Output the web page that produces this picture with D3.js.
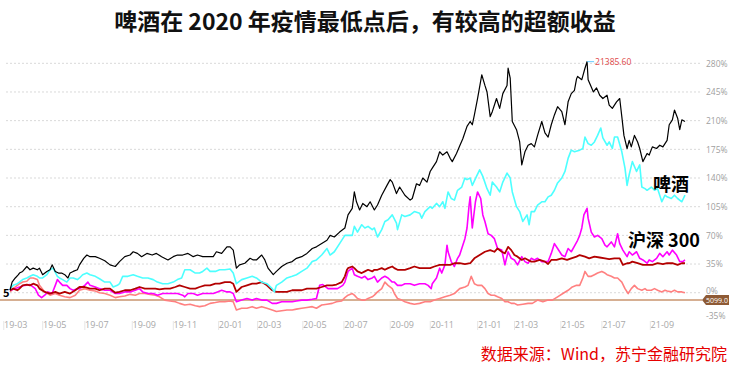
<!DOCTYPE html>
<html><head><meta charset="utf-8">
<script src="https://cdn.jsdelivr.net/npm/d3@7/dist/d3.min.js"></script>
<style>
body{margin:0;background:#fff;}
svg{display:block;font-family:"Noto Sans CJK SC","Noto Sans",sans-serif;}
</style></head>
<body><svg id="c" width="729" height="366"></svg>
<script>
// ---- data (x = trading-day index since start, y = cumulative return %) ----
const xTickLabels = ['19-03','19-05','19-07','19-09','19-11','20-01','20-03','20-05','20-07','20-09','20-11','21-01','21-03','21-05','21-07','21-09'];
const xTickDays = [5,42,82,127,166,209,246,289,328,372,410,455,490,534,573,619];
const yTicks = [-35,0,35,70,105,140,175,210,245,280];
const refLevel = -8.9;      // 5099.0 reference line
const refLabel = '5099.0';
const peakLabel = '21385.60';
const peakDay = 548;
const beer = [[0,3],[2,13],[5,18],[8,22],[9,24],[12,26],[16,32],[19,28],[22,30],[26,28],[28,30],[31,22],[35,26],[38,28],[40,34],[43,26],[46,24],[49,24],[52,22],[55,18],[57,24],[60,26],[64,28],[66,34],[70,42],[73,46],[76,44],[81,44],[85,42],[90,39],[95,34],[100,32],[104,38],[109,44],[114,46],[117,50],[121,48],[125,44],[130,48],[135,46],[139,48],[144,44],[150,40],[155,44],[159,46],[164,46],[169,48],[174,44],[178,46],[183,44],[188,44],[193,44],[196,50],[201,48],[206,56],[209,56],[212,52],[215,30],[218,34],[223,36],[228,42],[231,40],[234,40],[239,46],[242,40],[245,30],[250,22],[253,26],[258,32],[263,36],[268,38],[272,42],[277,44],[282,48],[287,54],[291,56],[296,60],[301,64],[304,70],[308,68],[313,74],[318,79],[321,95],[325,103],[327,123],[329,111],[332,101],[335,109],[339,105],[342,111],[346,101],[349,107],[353,119],[358,131],[361,138],[363,135],[367,121],[370,129],[375,119],[380,113],[382,115],[386,133],[389,131],[392,140],[396,135],[399,148],[401,152],[405,160],[408,172],[411,168],[415,172],[418,164],[420,160],[424,170],[427,179],[430,188],[434,203],[437,209],[439,205],[441,217],[444,237],[448,266],[451,253],[453,245],[456,215],[458,221],[462,237],[465,225],[468,243],[472,253],[473,274],[475,262],[477,209],[481,199],[484,184],[486,156],[489,172],[492,180],[495,182],[498,178],[501,192],[505,209],[508,195],[511,190],[514,205],[517,217],[520,227],[524,221],[527,205],[530,233],[533,243],[536,247],[538,261],[539,264],[543,260],[546,274],[548,282],[549,260],[552,251],[554,245],[557,250],[560,241],[563,237],[567,241],[569,229],[572,225],[576,233],[579,237],[581,215],[583,192],[586,176],[588,186],[590,178],[593,192],[596,184],[598,176],[601,160],[605,170],[607,168],[610,178],[614,176],[617,180],[620,178],[624,186],[626,205],[629,211],[631,223],[634,213],[636,199],[638,211],[641,209]];
const beerIndustry = [[0,5],[3,9],[7,11],[9,13],[12,16],[16,18],[19,20],[22,22],[26,20],[28,18],[31,18],[35,22],[38,28],[41,30],[45,20],[47,18],[50,16],[54,13],[57,18],[60,18],[64,16],[66,18],[69,22],[73,24],[76,22],[81,20],[85,17],[90,13],[95,13],[98,7],[102,9],[104,11],[107,20],[112,20],[117,22],[121,20],[126,18],[131,18],[136,16],[140,13],[145,11],[150,11],[155,13],[159,16],[163,18],[166,28],[171,28],[176,24],[180,24],[183,26],[187,30],[190,26],[195,26],[199,28],[204,28],[209,29],[212,24],[215,11],[220,16],[225,18],[230,20],[234,18],[239,13],[244,11],[249,5],[251,1],[253,9],[258,13],[263,18],[268,20],[272,22],[277,26],[282,30],[287,38],[291,40],[296,46],[301,54],[304,46],[308,50],[313,60],[318,70],[321,70],[325,70],[327,81],[330,74],[334,83],[337,79],[340,81],[344,77],[346,79],[349,68],[353,77],[356,87],[359,89],[363,95],[367,85],[368,77],[372,95],[375,93],[380,95],[384,99],[389,97],[391,91],[394,99],[399,105],[401,103],[405,109],[408,105],[411,111],[413,103],[416,123],[419,115],[422,113],[425,125],[429,129],[432,140],[434,138],[437,140],[439,131],[443,142],[446,150],[449,142],[453,127],[456,119],[458,135],[462,129],[465,123],[468,135],[472,146],[475,140],[477,123],[481,105],[484,99],[487,87],[491,95],[493,83],[495,99],[498,99],[501,107],[505,111],[508,111],[511,117],[514,119],[517,125],[520,134],[524,140],[527,148],[530,164],[533,174],[536,172],[541,174],[544,176],[546,190],[549,182],[552,180],[555,184],[558,192],[561,201],[563,189],[567,180],[569,184],[572,176],[574,190],[577,190],[581,172],[584,152],[586,131],[588,144],[591,160],[595,148],[598,156],[600,129],[603,127],[605,125],[609,129],[612,125],[615,127],[619,111],[622,119],[624,117],[628,115],[631,119],[634,115],[638,111],[641,119]];
const magentaSeries = [[0,3],[5,5],[9,7],[14,9],[19,10],[24,5],[27,-3],[30,-6],[33,-3],[36,1],[40,-1],[43,9],[45,16],[47,13],[50,9],[54,9],[57,5],[60,3],[64,5],[66,5],[71,9],[74,13],[76,9],[81,7],[85,5],[90,3],[95,3],[100,-1],[104,-1],[109,1],[114,1],[119,3],[123,5],[126,1],[131,-1],[136,-1],[140,-3],[145,-1],[150,-1],[155,-1],[159,-1],[164,-3],[166,-5],[169,-1],[174,-1],[178,-3],[183,-1],[188,-1],[193,-1],[197,1],[201,3],[206,1],[209,1],[212,-1],[215,-11],[220,-9],[225,-7],[230,-9],[234,-7],[239,-9],[244,-9],[249,-13],[253,-13],[258,-11],[263,-11],[268,-11],[272,-10],[277,-9],[282,-9],[287,-8],[291,-7],[294,9],[297,10],[302,5],[307,5],[311,5],[316,9],[318,13],[321,26],[325,30],[327,22],[330,20],[334,18],[337,20],[340,16],[344,18],[346,20],[349,13],[353,18],[356,20],[359,18],[363,13],[365,13],[368,9],[372,9],[375,11],[380,11],[384,9],[389,11],[394,11],[397,9],[400,5],[401,11],[405,18],[408,30],[410,24],[413,34],[415,58],[416,50],[419,38],[422,32],[425,42],[427,46],[430,58],[432,66],[434,79],[436,107],[437,117],[439,79],[442,111],[444,123],[447,115],[449,95],[451,87],[454,72],[457,70],[460,66],[463,54],[467,52],[470,34],[473,50],[476,42],[479,40],[482,34],[486,44],[489,38],[492,36],[495,42],[498,40],[501,42],[505,38],[508,38],[511,38],[514,48],[517,60],[520,54],[524,46],[527,44],[530,54],[533,50],[536,57],[539,64],[541,70],[543,79],[545,95],[548,103],[549,91],[552,74],[555,68],[558,70],[562,66],[565,58],[567,56],[571,62],[574,56],[577,72],[579,60],[582,52],[586,44],[588,50],[591,46],[595,50],[598,42],[601,40],[605,36],[607,40],[610,38],[614,42],[617,48],[620,44],[624,50],[626,46],[629,52],[633,46],[636,38],[639,38],[641,40]];
const hs300 = [[0,3],[3,5],[7,3],[9,5],[12,9],[16,10],[19,9],[22,11],[26,9],[28,5],[33,1],[38,-1],[43,1],[47,-1],[52,1],[57,-1],[62,3],[66,7],[71,7],[76,5],[81,5],[85,3],[90,5],[95,5],[100,0],[104,1],[109,3],[114,3],[119,5],[123,7],[128,5],[133,5],[138,5],[142,4],[147,5],[152,5],[157,7],[161,9],[166,7],[171,5],[176,5],[180,7],[185,9],[190,9],[195,11],[199,11],[204,13],[209,13],[212,11],[215,1],[220,7],[225,9],[230,11],[234,11],[239,13],[244,9],[249,3],[253,1],[258,1],[263,1],[268,3],[272,3],[277,3],[282,5],[287,5],[291,5],[296,7],[301,9],[306,9],[310,10],[315,13],[318,20],[320,28],[321,30],[325,32],[327,30],[330,26],[334,24],[337,26],[340,28],[344,26],[346,28],[349,28],[353,30],[356,28],[359,30],[363,32],[365,30],[368,28],[372,28],[375,28],[380,30],[384,32],[389,30],[394,30],[399,30],[403,32],[408,34],[413,34],[418,34],[422,36],[427,36],[432,35],[437,36],[441,42],[446,46],[451,50],[456,52],[460,50],[463,54],[467,50],[470,48],[473,56],[476,52],[479,46],[482,44],[486,40],[489,42],[492,40],[495,38],[498,38],[503,40],[508,38],[511,35],[514,40],[519,40],[524,42],[529,40],[533,42],[538,44],[541,46],[546,44],[550,42],[555,44],[560,43],[565,42],[569,41],[574,42],[579,42],[582,34],[586,36],[588,36],[591,38],[596,36],[601,34],[605,34],[610,34],[615,36],[620,35],[624,36],[629,36],[634,34],[638,36],[641,36]];
const excess = [[0,1],[3,5],[7,9],[9,11],[12,13],[16,14],[19,18],[22,18],[26,16],[28,9],[33,1],[38,-3],[43,-1],[47,-3],[52,-5],[57,-6],[62,-3],[66,3],[71,5],[76,3],[81,2],[85,0],[90,-1],[95,-3],[100,-6],[104,-5],[109,-4],[114,-2],[119,-3],[123,-1],[128,-1],[133,-2],[138,-3],[142,-5],[147,-9],[152,-10],[157,-11],[161,-13],[166,-15],[171,-14],[176,-16],[180,-17],[185,-16],[190,-13],[195,-12],[199,-11],[204,-11],[209,-10],[212,-11],[215,-21],[220,-19],[225,-19],[230,-17],[234,-19],[239,-17],[244,-19],[249,-21],[253,-23],[258,-22],[263,-21],[268,-21],[272,-20],[277,-19],[282,-18],[287,-17],[291,-19],[296,-15],[301,-14],[306,-13],[310,-11],[315,-10],[318,-6],[321,-3],[325,-1],[327,-3],[330,-7],[334,-9],[337,-9],[340,-7],[344,-5],[346,-3],[349,1],[353,5],[356,13],[359,9],[363,5],[365,-1],[368,-7],[372,-9],[375,-11],[380,-13],[384,-14],[389,-13],[394,-11],[399,-11],[403,-9],[408,-7],[413,-5],[418,-3],[422,-1],[427,5],[432,7],[435,9],[438,20],[441,11],[444,9],[448,9],[451,5],[454,-1],[457,-3],[460,-3],[463,-5],[467,-7],[470,-11],[473,-11],[476,-13],[479,-13],[482,-15],[487,-14],[492,-13],[496,-13],[501,-9],[506,-11],[511,-9],[515,-9],[520,-5],[525,-1],[530,3],[534,7],[538,9],[541,9],[544,18],[546,26],[549,20],[552,20],[555,22],[558,24],[562,26],[565,24],[567,22],[571,20],[574,18],[577,18],[581,13],[584,5],[587,-1],[590,5],[593,9],[596,5],[600,3],[603,5],[605,3],[609,3],[612,5],[615,3],[619,1],[622,3],[624,2],[628,1],[631,3],[634,1],[638,1],[641,0]];

// ---- drawing ----
const svg = d3.select('#c');
const x = d3.scaleLinear().domain([0, 641]).range([10, 685]);
const y = d3.scaleLinear().domain([-35, 280]).range([321.4, 63.3]);

// title
svg.append('text').attr('x', 365).attr('y', 30).attr('text-anchor', 'middle')
  .attr('font-size', 23).attr('font-weight', 'bold').attr('fill', '#111')
  .text('啤酒在 2020 年疫情最低点后，有较高的超额收益');

// gridlines
svg.append('g').selectAll('line').data(yTicks.filter(d => d >= 0)).join('line')
  .attr('x1', 6).attr('x2', 700).attr('y1', d => y(d)).attr('y2', d => y(d))
  .attr('stroke', '#d9d9d9').attr('stroke-dasharray', '2,2').attr('stroke-width', 1);

// right axis labels
const yAxis = svg.append('g').attr('transform', 'translate(703,0)')
  .call(d3.axisRight(y).tickValues(yTicks).tickFormat(d => d + '%').tickSize(0).tickPadding(3));
yAxis.select('.domain').remove();
yAxis.selectAll('text').attr('font-size', 8.5).attr('fill', '#a0a0a0')
  .attr('font-family', '"Open Sans","Noto Sans",sans-serif')
  .attr('dy', d => d === -35 ? '-0.3em' : (d === 0 ? '0.1em' : '0.32em'));

// x axis labels
const xAxis = svg.append('g').attr('transform', 'translate(0,320)')
  .call(d3.axisBottom(x).tickValues(xTickDays).tickFormat((d, i) => xTickLabels[i]).tickSize(0).tickPadding(2));
xAxis.select('.domain').remove();
xAxis.selectAll('text').attr('font-size', 9).attr('fill', '#a8a8a8')
  .attr('font-family', '"Open Sans","Noto Sans",sans-serif');
svg.append('g').selectAll('line').data(xTickDays).join('line')
  .attr('x1', d => x(d) - 11.5).attr('x2', d => x(d) - 11.5).attr('y1', 321).attr('y2', 330)
  .attr('stroke', '#e6e6e6');

// reference line
svg.append('line').attr('x1', 0).attr('x2', 702).attr('y1', y(refLevel)).attr('y2', y(refLevel))
  .attr('stroke', '#c8946e').attr('stroke-width', 1.3);
const ry = y(refLevel);
svg.append('path').attr('d', `M702,${ry} L706,${ry-5} L729,${ry-5} L729,${ry+5} L706,${ry+5} Z`).attr('fill', '#8e5a35');
svg.append('text').attr('x', 706).attr('y', ry + 2.8).attr('font-size', 7.5).attr('fill', '#fff')
  .attr('textLength', 22).attr('lengthAdjust', 'spacingAndGlyphs')
  .attr('font-family', '"Open Sans","Noto Sans",sans-serif').text(refLabel);

// series
const line = d3.line().x(d => x(d[0])).y(d => y(d[1]));
const series = [
  {data: excess, color: '#ff8080', w: 1.6},
  {data: magentaSeries, color: '#ff00ff', w: 1.6},
  {data: hs300, color: '#b30000', w: 1.8},
  {data: beerIndustry, color: '#4dffff', w: 1.6},
  {data: beer, color: '#000000', w: 1.2}
];
svg.append('g').selectAll('path').data(series).join('path')
  .attr('d', d => line(d.data)).attr('fill', 'none')
  .attr('stroke', d => d.color).attr('stroke-width', d => d.w).attr('stroke-linejoin', 'round');

// peak marker
const peakVal = d3.max(beer, d => d[1]);
svg.append('line').attr('x1', x(peakDay)).attr('x2', x(peakDay) + 7).attr('y1', y(peakVal)).attr('y2', y(peakVal))
  .attr('stroke', '#66ccff').attr('stroke-width', 1);
svg.append('text').attr('x', x(peakDay) + 8).attr('y', y(peakVal) + 3).attr('font-size', 8.5)
  .attr('fill', '#e04848').attr('font-family', '"Open Sans","Noto Sans",sans-serif').text(peakLabel);

// left start marker glyph
svg.append('text').attr('x', 3).attr('y', 297).attr('font-size', 11).attr('font-weight', 'bold')
  .attr('fill', '#000').text('5');

// annotations
svg.append('text').attr('x', 653).attr('y', 191).attr('font-size', 18).attr('font-weight', 'bold')
  .attr('fill', '#000').text('啤酒');
svg.append('text').attr('x', 628).attr('y', 247).attr('font-size', 18).attr('font-weight', 'bold')
  .attr('fill', '#000').text('沪深 300');

// source
svg.append('text').attr('x', 727).attr('y', 360).attr('text-anchor', 'end').attr('font-size', 16)
  .attr('fill', '#e60000').text('数据来源：Wind，苏宁金融研究院');
</script></body></html>
